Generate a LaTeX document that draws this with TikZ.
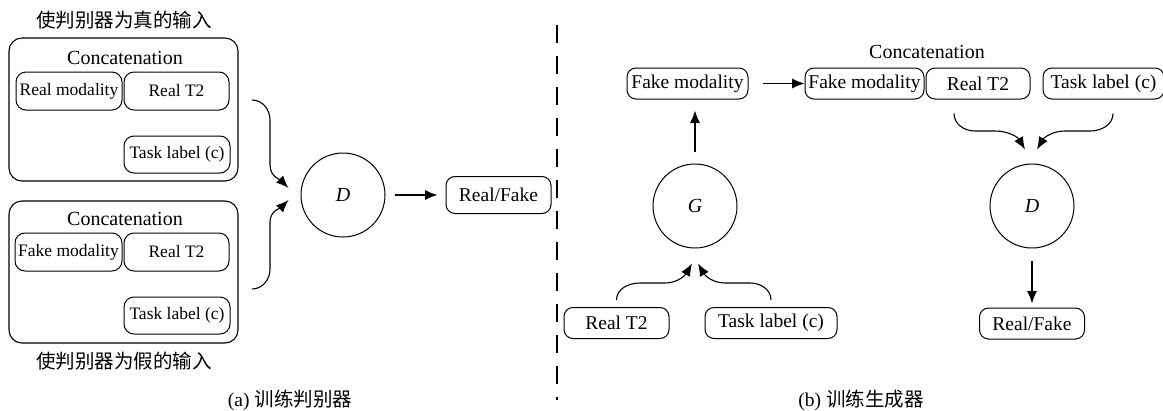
\documentclass[tikz,border=0pt]{standalone}
\usepackage{fontspec}
\setmainfont{Liberation Serif}
\newfontfamily\cjk{Noto Sans CJK SC}
\usetikzlibrary{
  arrows.meta,
  positioning
}
\definecolor{linecolor}{RGB}{0, 0, 0}
\definecolor{labelcolor}{RGB}{0, 0, 0}
\tikzset{
pillbox/.style={
  draw=linecolor,
  rounded corners=9pt,
  line width=1pt,
  inner sep=0pt,
  minimum height=31pt,
  text=labelcolor,
  font=\fontsize{19.5}{22}\selectfont
},
smallpill/.style={
  pillbox,
  rounded corners=10pt,
  minimum height=38pt,
  minimum width=106pt,
  font=\fontsize{17.5}{20}\selectfont
},
groupbox/.style={
  draw=linecolor,
  rounded corners=13pt,
  line width=1.1pt,
  minimum width=229pt,
  minimum height=143pt
},
netnode/.style={
  draw=linecolor,
  circle,
  line width=1pt,
  minimum size=84pt,
  inner sep=0pt,
  text=labelcolor,
  font=\fontsize{20}{22}\selectfont\itshape
},
concatlabel/.style={
  text=labelcolor,
  font=\fontsize{20}{22}\selectfont
},
cjklabel/.style={
  text=labelcolor,
  font=\fontsize{19.5}{22}\selectfont\cjk
},
captionlabel/.style={
  text=labelcolor,
  font=\fontsize{19.5}{22}\selectfont
},
arrow/.style={
  -{Latex[length=12.5pt,width=10pt]},
  line width=1.1pt,
  draw=linecolor
},
divider/.style={
  draw=linecolor,
  line width=1.3pt,
  dash pattern=on 18pt off 13pt
}
}

\begin{document}
\begin{tikzpicture}[x=1pt, y=1pt]
  \useasboundingbox (0,0) rectangle (1163,-410);

  % (a) real input group
  \node[cjklabel] (titleReal) at (124,-20) {使判别器为真的输入};
  \node[groupbox] (grpReal) at (123.5,-109.5) {};
  \node[concatlabel] (catReal) at (125,-58) {Concatenation};
  \node[smallpill] (modReal) at (69,-91) {Real modality};
  \node[smallpill, right=1pt of modReal, minimum width=105pt] (t2Real) {Real T2};
  \node[smallpill, minimum height=37pt] (taskReal) at (177,-154.5) {Task label (c)};

  % (a) fake input group
  \node[groupbox, minimum height=142pt] (grpFake) at (123.5,-272) {};
  \node[concatlabel] (catFake) at (125,-219) {Concatenation};
  \node[smallpill, minimum width=107pt] (modFake) at (68.5,-252) {Fake modality};
  \node[smallpill, right=1pt of modFake, minimum width=105pt] (t2Fake) {Real T2};
  \node[smallpill, minimum height=37pt] (taskFake) at (177,-315.5) {Task label (c)};
  \node[cjklabel] (titleFake) at (124,-361) {使判别器为假的输入};

  % (a) discriminator
  \node[netnode] (discA) at (343,-195) {D};
  \node[pillbox, minimum width=105pt, minimum height=37pt] (outA) at (498.5,-195) {Real/Fake};
  \draw[arrow, shorten <=9pt, shorten >=8pt] (discA) -- (outA);

  % inputs bending into D
  \coordinate (srcReal) at (252,-100);
  \coordinate (srcFake) at (252,-289);
  \coordinate (inReal) at ([xshift=-12pt,yshift=7pt]discA.west);
  \coordinate (inFake) at ([xshift=-12pt,yshift=-5pt]discA.west);
  \draw[arrow] (srcReal) to[out=0,in=90] (270,-120) -- (270,-165) to[out=-90,in=135] (inReal);
  \draw[arrow] (srcFake) to[out=0,in=-90] (270,-269) -- (270,-222) to[out=90,in=-135] (inFake);

  \node[captionlabel] (capA) at (290,-400) {(a) {\cjk 训练判别器}};

  % split line
  \coordinate (divTop) at (557,-25);
  \coordinate (divBot) at (557,-400);
  \draw[divider] (divTop) -- (divBot);

  % (b) generator
  \node[pillbox, minimum width=121pt] (fakeG) at (687.5,-83.5) {Fake modality};
  \node[netnode] (gen) at (695,-206) {G};
  \node[pillbox, minimum width=105pt] (t2G) at (616.5,-323) {Real T2};
  \node[pillbox, minimum width=132pt] (taskG) at (771,-323) {Task label (c)};
  \draw[arrow, shorten <=12pt, shorten >=11pt] (gen.north) -- (gen.north |- fakeG.south);

  \coordinate (srcT2G) at ([yshift=7pt]t2G.north);
  \coordinate (srcTaskG) at ([yshift=7pt]taskG.north);
  \coordinate (inT2G) at ([xshift=-3pt,yshift=-15pt]gen.south);
  \coordinate (inTaskG) at ([xshift=3pt,yshift=-15pt]gen.south);
  \draw[arrow] (srcT2G) to[out=90,in=180] (640,-283) -- (665,-283) to[out=0,in=-120] (inT2G);
  \draw[arrow] (srcTaskG) to[out=90,in=0] (750,-283) -- (725,-283) to[out=180,in=-60] (inTaskG);

  % (b) concatenated input and discriminator
  \node[concatlabel] (catD) at (927,-52) {Concatenation};
  \node[pillbox, minimum width=119pt] (fakeD) at (864.5,-83.5) {Fake modality};
  \node[pillbox, minimum width=104pt, right=1pt of fakeD] (t2D) {Real T2};
  \node[pillbox, minimum width=121pt, right=12pt of t2D] (taskD) {Task label (c)};
  \draw[arrow, shorten <=14pt] (fakeG) -- (fakeD);

  \node[netnode] (discB) at (1032,-206) {D};
  \node[pillbox, minimum width=105pt] (outB) at (1032,-323.5) {Real/Fake};
  \draw[arrow, shorten <=12pt, shorten >=4pt] (discB) -- (outB);

  \coordinate (srcT2D) at ([xshift=-24pt,yshift=-14pt]t2D.south);
  \coordinate (srcTaskD) at ([xshift=9.5pt,yshift=-14pt]taskD.south);
  \coordinate (inT2D) at ([xshift=-7pt,yshift=14pt]discB.north);
  \coordinate (inTaskD) at ([xshift=5pt,yshift=14pt]discB.north);
  \draw[arrow] (srcT2D) to[out=-90,in=180] (975,-131) -- (995,-131) to[out=0,in=120] (inT2D);
  \draw[arrow] (srcTaskD) to[out=-90,in=0] (1090,-131) -- (1065,-131) to[out=180,in=60] (inTaskD);

  \node[captionlabel] (capB) at (861,-400) {(b) {\cjk 训练生成器}};
\end{tikzpicture}
\end{document}
